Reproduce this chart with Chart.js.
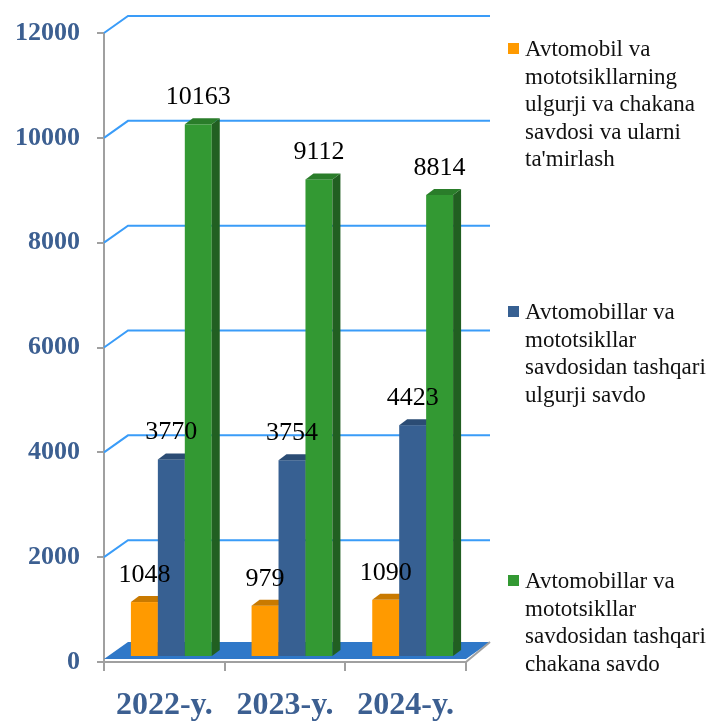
<!DOCTYPE html>
<html><head><meta charset="utf-8">
<script src="https://cdn.jsdelivr.net/npm/chart.js@4"></script>
<style>
html,body{margin:0;padding:0;background:#fff;}
#wrap{position:relative;width:715px;height:722px;overflow:hidden;background:#fff;}
canvas{position:absolute;left:0;top:0;}
.leg{position:absolute;left:508px;font-family:'Liberation Serif','Times New Roman',serif;font-size:23px;line-height:27.6px;color:#111;white-space:pre-line;}
.leg .mk{position:absolute;left:0;top:8px;width:11px;height:11px;}
.leg .tx{margin-left:17px;}
</style></head>
<body><div id="wrap"><canvas id="c" width="715" height="722"></canvas><div id="legend"></div></div>
<script>
// ---- data ----
const categories = ['2022-y.', '2023-y.', '2024-y.'];
const seriesNames = [
  "Avtomobil va\nmototsikllarning\nulgurji va chakana\nsavdosi va ularni\nta'mirlash",
  "Avtomobillar va\nmototsikllar\nsavdosidan tashqari\nulgurji savdo",
  "Avtomobillar va\nmototsikllar\nsavdosidan tashqari\nchakana savdo"
];
const seriesRepair = [1048, 979, 1090];
const seriesWholesale = [3770, 3754, 4423];
const seriesRetail = [10163, 9112, 8814];
const yMin = 0, yMax = 12000, yStep = 2000;

// ---- styles ----
const frontColors = ['#FF9A00', '#376092', '#339933'];
const topColors = ['#C97A00', '#2B4C74', '#2A7D2A'];
const sideColors = ['#B86E00', '#253F60', '#215F21'];
const gridColor = '#3A9CF8';
const floorColor = '#2F78C8';
const axisGray = '#A0A0A0';
const tickBlue = '#3C5F91';
const legendTops = [35, 298, 567];
const WALL = {dx: 24, dy: -17};
const BAR_OFF = {dx: 7, dy: -5};
const BAR_DEPTH = {dx: 8, dy: -6};

const threeD = {
  id: 'threeD',
  beforeDatasetsDraw(chart) {
    const ctx = chart.ctx, a = chart.chartArea, ys = chart.scales.y;
    ctx.save();
    // floor
    ctx.fillStyle = floorColor;
    ctx.beginPath();
    ctx.moveTo(a.left, a.bottom - 3);
    ctx.lineTo(a.right, a.bottom - 3);
    ctx.lineTo(a.right + WALL.dx, a.bottom - 3 + WALL.dy);
    ctx.lineTo(a.left + WALL.dx, a.bottom - 3 + WALL.dy);
    ctx.closePath();
    ctx.fill();
    ctx.strokeStyle = axisGray; ctx.lineWidth = 2;
    ctx.beginPath();
    ctx.moveTo(a.right, a.bottom);
    ctx.lineTo(a.right + WALL.dx, a.bottom - 3 + WALL.dy);
    ctx.stroke();
    // back wall gridlines
    ctx.strokeStyle = gridColor; ctx.lineWidth = 2;
    ys.ticks.forEach(t => {
      if (t.value === 0) return;
      const py = ys.getPixelForValue(t.value);
      ctx.beginPath();
      ctx.moveTo(a.left, py);
      ctx.lineTo(a.left + WALL.dx, py + WALL.dy);
      ctx.lineTo(a.right + WALL.dx, py + WALL.dy);
      ctx.stroke();
    });
    // bars
    ctx.translate(BAR_OFF.dx, BAR_OFF.dy);
    const d = BAR_DEPTH;
    chart.data.datasets.forEach((ds, di) => {
      const meta = chart.getDatasetMeta(di);
      meta.data.forEach(bar => {
        const p = bar.getProps(['x', 'y', 'base', 'width'], true);
        const l = p.x - p.width / 2, r = p.x + p.width / 2, top = p.y, base = p.base;
        ctx.fillStyle = frontColors[di];
        ctx.fillRect(l, top, p.width, base - top);
        ctx.fillStyle = sideColors[di];
        ctx.beginPath();
        ctx.moveTo(r, top); ctx.lineTo(r + d.dx, top + d.dy);
        ctx.lineTo(r + d.dx, base + d.dy); ctx.lineTo(r, base);
        ctx.closePath(); ctx.fill();
        ctx.fillStyle = topColors[di];
        ctx.beginPath();
        ctx.moveTo(l, top); ctx.lineTo(r, top);
        ctx.lineTo(r + d.dx, top + d.dy); ctx.lineTo(l + d.dx, top + d.dy);
        ctx.closePath(); ctx.fill();
      });
    });
    // value labels
    ctx.fillStyle = '#000';
    ctx.font = '26px "Liberation Serif", serif';
    ctx.textAlign = 'center';
    ctx.textBaseline = 'middle';
    chart.data.datasets.forEach((ds, di) => {
      const meta = chart.getDatasetMeta(di);
      meta.data.forEach((bar, i) => {
        const p = bar.getProps(['x', 'y'], true);
        ctx.fillText(String(ds.data[i]), p.x, p.y - 27);
      });
    });
    ctx.restore();
    return false;
  }
};

const serif = "'Liberation Serif', 'Times New Roman', serif";
new Chart(document.getElementById('c'), {
  type: 'bar',
  data: {
    labels: categories,
    datasets: [
      {label: seriesNames[0].replace(/\n/g, ' '), data: seriesRepair, backgroundColor: frontColors[0]},
      {label: seriesNames[1].replace(/\n/g, ' '), data: seriesWholesale, backgroundColor: frontColors[1]},
      {label: seriesNames[2].replace(/\n/g, ' '), data: seriesRetail, backgroundColor: frontColors[2]}
    ]
  },
  options: {
    responsive: false,
    animation: false,
    layout: {padding: {top: 33, right: 249, bottom: 0, left: 0}},
    datasets: {bar: {categoryPercentage: 0.67, barPercentage: 1.0}},
    plugins: {legend: {display: false}, tooltip: {enabled: false}},
    scales: {
      x: {
        grid: {display: true, drawOnChartArea: false, drawTicks: true, tickLength: 9, color: axisGray, lineWidth: 2, offset: true},
        border: {display: true, color: axisGray, width: 2},
        ticks: {color: tickBlue, padding: 16, font: {family: serif, size: 32, weight: 'bold'}},
        afterFit(s) { s.height = 60; }
      },
      y: {
        min: yMin, max: yMax,
        grid: {display: true, drawOnChartArea: false, drawTicks: true, tickLength: 7, color: axisGray, lineWidth: 2},
        border: {display: true, color: axisGray, width: 2},
        ticks: {stepSize: yStep, color: tickBlue, padding: 17, font: {family: serif, size: 26, weight: 'bold'},
          callback: v => String(v)},
        afterFit(s) { s.width = 104; }
      }
    }
  },
  plugins: [threeD]
});

// legend
const legEl = document.getElementById('legend');
seriesNames.forEach((name, i) => {
  const item = document.createElement('div');
  item.className = 'leg';
  item.style.top = legendTops[i] + 'px';
  const mk = document.createElement('div');
  mk.className = 'mk';
  mk.style.background = frontColors[i];
  const tx = document.createElement('div');
  tx.className = 'tx';
  tx.textContent = name;
  item.appendChild(mk); item.appendChild(tx);
  legEl.appendChild(item);
});
</script>
</body></html>
